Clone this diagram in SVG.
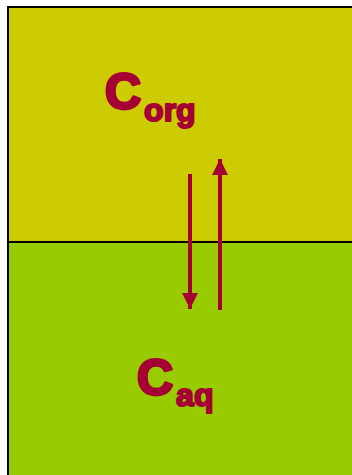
<svg xmlns="http://www.w3.org/2000/svg" width="352" height="475" viewBox="0 0 352 475">
<defs>
<style>
.lbl{font-family:"Liberation Sans",Arial,sans-serif;font-weight:bold;fill:#A50034;stroke:#A50034;stroke-linejoin:round}
.big{font-size:50px;stroke-width:3}
.sub{font-size:32px;stroke-width:2}
.arr{stroke:#A50034;stroke-width:4;fill:none}
</style>
<marker id="ah" viewBox="0 0 16 16" refX="16" refY="8" markerWidth="16" markerHeight="16" markerUnits="userSpaceOnUse" orient="auto">
<path d="M0,0 L16,8 L0,16 Z" fill="#A50034"/>
</marker>
</defs>
<rect x="0" y="0" width="352" height="475" fill="#ffffff"/>
<g id="organic">
<rect x="9" y="8" width="343" height="234" fill="#CCCC00"/>
<text class="lbl" x="105" y="109"><tspan class="big">C</tspan><tspan class="sub" dx="3" dy="12">org</tspan></text>
</g>
<g id="aqueous">
<rect x="9" y="242" width="343" height="233" fill="#99CC00"/>
<text class="lbl" x="137" y="395"><tspan class="big">C</tspan><tspan class="sub" dx="3" dy="11">aq</tspan></text>
</g>
<g id="borders">
<line x1="8" y1="7" x2="352" y2="7" stroke="#000" stroke-width="2"/>
<line x1="8" y1="6" x2="8" y2="475" stroke="#000" stroke-width="2"/>
<line x1="9" y1="242" x2="352" y2="242" stroke="#000" stroke-width="2"/>
</g>
<g id="connectors">
<line class="arr" x1="190" y1="174" x2="190" y2="309" marker-end="url(#ah)"/>
<line class="arr" x1="220" y1="310" x2="220" y2="159" marker-end="url(#ah)"/>
</g>
</svg>
